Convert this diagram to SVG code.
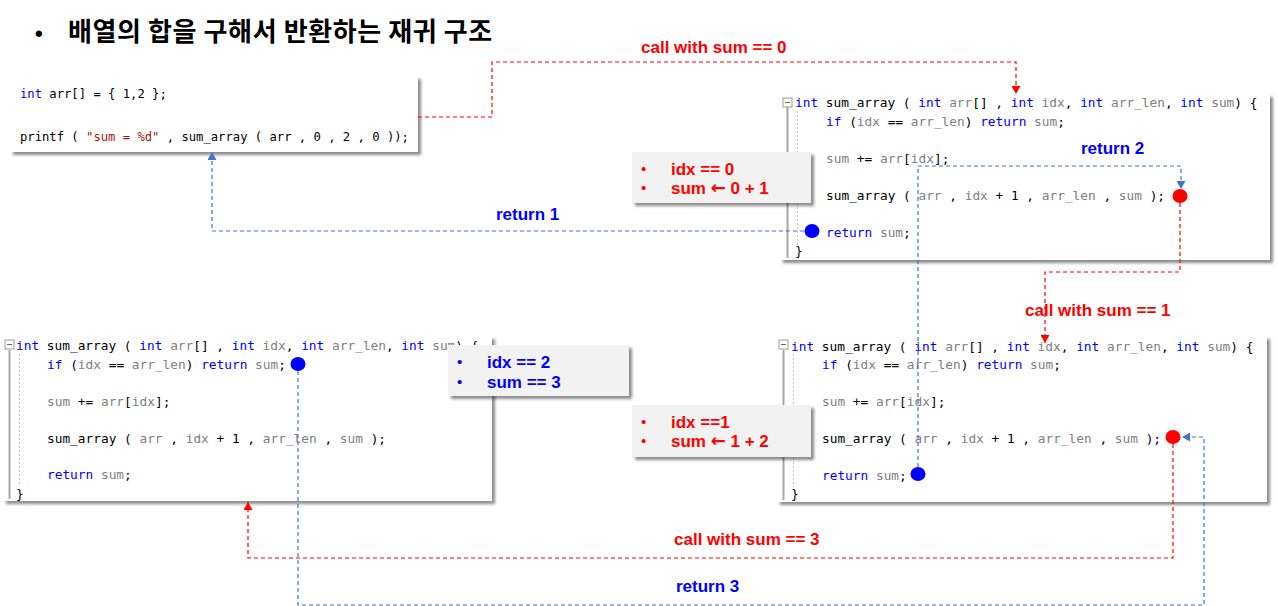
<svg xmlns="http://www.w3.org/2000/svg" width="1278" height="606" viewBox="0 0 1278 606">
<style>
.m{font-family:"DejaVu Sans Mono","Liberation Mono",monospace;font-size:12.8px;fill:#000}
.m1{font-family:"DejaVu Sans Mono","Liberation Mono",monospace;font-size:12.2px;fill:#000}
.k{fill:#0000ff}
.g{fill:#808080}
.s{fill:#a31515}
.lbl{font-family:"Liberation Sans",Arial,sans-serif;font-weight:bold;font-size:17px}
.ann{font-family:"Liberation Sans",Arial,sans-serif;font-weight:bold;font-size:17px}
.arw{font-family:"DejaVu Sans",sans-serif;font-weight:bold;font-size:18px}
.bul{font-family:"Liberation Sans",Arial,sans-serif;font-size:15px}
.red{fill:#ff0000}
.blue{fill:#0000ff}
.box{fill:#ffffff;filter:url(#sh)}
.note{fill:#f2f2f2;filter:url(#sh)}
.gut{stroke:#a6a6a6;stroke-width:2}
.ind{stroke:#c8c8c8;stroke-width:1;stroke-dasharray:2 2}
.fold{fill:#fff;stroke:#999;stroke-width:1}
.foldm{stroke:#666;stroke-width:1}
.cr{fill:none;stroke:#ff0000;stroke-width:1.2;stroke-dasharray:4 3}
.cb{fill:none;stroke:#4472c4;stroke-width:1.2;stroke-dasharray:4 3}
</style>
<defs>
<filter id="sh" x="-5%" y="-10%" width="115%" height="130%">
<feDropShadow dx="3" dy="3" stdDeviation="1.8" flood-color="#000" flood-opacity="0.45"/>
</filter>
<marker id="ar" markerUnits="userSpaceOnUse" markerWidth="9" markerHeight="9" refX="8" refY="4.5" orient="auto">
<path d="M0,0 L8,4.5 L0,9 z" fill="#ff0000"/>
</marker>
<marker id="ab" markerUnits="userSpaceOnUse" markerWidth="9" markerHeight="9" refX="8" refY="4.5" orient="auto">
<path d="M0,0 L8,4.5 L0,9 z" fill="#4472c4"/>
</marker>
</defs>
<rect width="1278" height="606" fill="#ffffff"/>

<g id="title">
<text x="35" y="41" style="font-family:'Liberation Sans',Arial,sans-serif;font-size:22px;font-weight:bold">•</text>
<text x="68" y="41" style="font-family:'Noto Sans CJK KR','Noto Sans',sans-serif;font-size:26px;font-weight:bold;letter-spacing:0.6px">배열의 합을 구해서 반환하는 재귀 구조</text>
</g>

<g id="code-main">
<rect class="box" x="10" y="76" width="408" height="76"/>
<text class="m1" x="20" y="98" xml:space="preserve"><tspan class="k">int</tspan> arr[] = { 1,2 };</text>
<text class="m1" x="20" y="141" xml:space="preserve">printf ( <tspan class="s">"sum = %d"</tspan> , sum_array ( arr , 0 , 2 , 0 ));</text>
</g>

<g id="code-call-1">
<rect class="box" x="780" y="94" width="490" height="166"/>
<line class="gut" x1="787.5" y1="107" x2="787.5" y2="258"/>
<line class="ind" x1="797.5" y1="111" x2="797.5" y2="245"/>
<rect class="fold" x="783" y="98" width="9" height="9"/>
<line class="foldm" x1="785" y1="102.5" x2="790" y2="102.5"/>
<text class="m" x="795" y="107" xml:space="preserve"><tspan class="k">int</tspan> sum_array ( <tspan class="k">int</tspan><tspan class="g"> arr</tspan>[] , <tspan class="k">int</tspan><tspan class="g"> idx</tspan>, <tspan class="k">int</tspan><tspan class="g"> arr_len</tspan>, <tspan class="k">int</tspan><tspan class="g"> sum</tspan>) {</text>
<text class="m" x="826" y="125.5" xml:space="preserve"><tspan class="k">if</tspan> (<tspan class="g">idx</tspan> == <tspan class="g">arr_len</tspan>) <tspan class="k">return</tspan> <tspan class="g">sum</tspan>;</text>
<text class="m" x="826" y="162.5" xml:space="preserve"><tspan class="g">sum</tspan> += <tspan class="g">arr</tspan>[<tspan class="g">idx</tspan>];</text>
<text class="m" x="826" y="199.5" xml:space="preserve">sum_array ( <tspan class="g">arr</tspan> , <tspan class="g">idx</tspan> + 1 , <tspan class="g">arr_len</tspan> , <tspan class="g">sum</tspan> );</text>
<text class="m" x="826" y="236.5" xml:space="preserve"><tspan class="k">return</tspan> <tspan class="g">sum</tspan>;</text>
<text class="m" x="795" y="255">}</text>
</g>

<g id="code-call-2">
<rect class="box" x="777" y="336" width="490" height="166"/>
<line class="gut" x1="783.5" y1="350" x2="783.5" y2="500"/>
<line class="ind" x1="793.5" y1="354" x2="793.5" y2="487"/>
<rect class="fold" x="779" y="340" width="9" height="9"/>
<line class="foldm" x1="781" y1="344.5" x2="786" y2="344.5"/>
<text class="m" x="791" y="350.5" xml:space="preserve"><tspan class="k">int</tspan> sum_array ( <tspan class="k">int</tspan><tspan class="g"> arr</tspan>[] , <tspan class="k">int</tspan><tspan class="g"> idx</tspan>, <tspan class="k">int</tspan><tspan class="g"> arr_len</tspan>, <tspan class="k">int</tspan><tspan class="g"> sum</tspan>) {</text>
<text class="m" x="822" y="369" xml:space="preserve"><tspan class="k">if</tspan> (<tspan class="g">idx</tspan> == <tspan class="g">arr_len</tspan>) <tspan class="k">return</tspan> <tspan class="g">sum</tspan>;</text>
<text class="m" x="822" y="406" xml:space="preserve"><tspan class="g">sum</tspan> += <tspan class="g">arr</tspan>[<tspan class="g">idx</tspan>];</text>
<text class="m" x="822" y="443" xml:space="preserve">sum_array ( <tspan class="g">arr</tspan> , <tspan class="g">idx</tspan> + 1 , <tspan class="g">arr_len</tspan> , <tspan class="g">sum</tspan> );</text>
<text class="m" x="822" y="479.5" xml:space="preserve"><tspan class="k">return</tspan> <tspan class="g">sum</tspan>;</text>
<text class="m" x="791" y="498">}</text>
</g>

<g id="code-call-3">
<rect class="box" x="3" y="336" width="489" height="165"/>
<line class="gut" x1="9.5" y1="350" x2="9.5" y2="499"/>
<line class="ind" x1="19.5" y1="354" x2="19.5" y2="486"/>
<rect class="fold" x="5" y="340" width="9" height="9"/>
<line class="foldm" x1="7" y1="344.5" x2="12" y2="344.5"/>
<text class="m" x="16" y="350" xml:space="preserve"><tspan class="k">int</tspan> sum_array ( <tspan class="k">int</tspan><tspan class="g"> arr</tspan>[] , <tspan class="k">int</tspan><tspan class="g"> idx</tspan>, <tspan class="k">int</tspan><tspan class="g"> arr_len</tspan>, <tspan class="k">int</tspan><tspan class="g"> sum</tspan>) {</text>
<text class="m" x="47" y="368.5" xml:space="preserve"><tspan class="k">if</tspan> (<tspan class="g">idx</tspan> == <tspan class="g">arr_len</tspan>) <tspan class="k">return</tspan> <tspan class="g">sum</tspan>;</text>
<text class="m" x="47" y="405.5" xml:space="preserve"><tspan class="g">sum</tspan> += <tspan class="g">arr</tspan>[<tspan class="g">idx</tspan>];</text>
<text class="m" x="47" y="442.5" xml:space="preserve">sum_array ( <tspan class="g">arr</tspan> , <tspan class="g">idx</tspan> + 1 , <tspan class="g">arr_len</tspan> , <tspan class="g">sum</tspan> );</text>
<text class="m" x="47" y="479" xml:space="preserve"><tspan class="k">return</tspan> <tspan class="g">sum</tspan>;</text>
<text class="m" x="16" y="497.5">}</text>
</g>

<g id="connectors">
<path class="cr" d="M418,117 H492 V62 H1016 V94" marker-end="url(#ar)"/>
<path class="cb" d="M804,231 H212 V152" marker-end="url(#ab)"/>
<path class="cr" d="M1180,203 V272 H1045 V343" marker-end="url(#ar)"/>
<path class="cb" d="M918,467 V166 H1181 V189" marker-end="url(#ab)"/>
<path class="cr" d="M1173,444 V558 H248 V502" marker-end="url(#ar)"/>
<path class="cb" d="M298,371 V605 H1204 V437 H1182" marker-end="url(#ab)"/>
<text class="lbl red" x="641" y="53">call with sum == 0</text>
<text class="lbl blue" x="496" y="220">return 1</text>
<text class="lbl blue" x="1081" y="154">return 2</text>
<text class="lbl red" x="1025" y="316">call with sum == 1</text>
<text class="lbl red" x="674" y="545">call with sum == 3</text>
<text class="lbl blue" x="676" y="592">return 3</text>
</g>

<g id="points">
<ellipse cx="812" cy="231" rx="7.5" ry="7" fill="#0000ff"/>
<ellipse cx="1180" cy="196" rx="7.5" ry="7" fill="#ff0000"/>
<ellipse cx="918" cy="474" rx="7.5" ry="7" fill="#0000ff"/>
<ellipse cx="1173" cy="437" rx="7.5" ry="7" fill="#ff0000"/>
<ellipse cx="298" cy="364" rx="7.5" ry="7" fill="#0000ff"/>
</g>

<g id="note-1">
<rect class="note" x="632" y="152" width="179" height="51"/>
<text class="bul red" x="641" y="174">•</text>
<text class="ann red" x="671" y="175">idx == 0</text>
<text class="bul red" x="641" y="193">•</text>
<text class="ann red" x="671" y="194" xml:space="preserve">sum <tspan class="arw">←</tspan> 0 + 1</text>
</g>

<g id="note-2">
<rect class="note" x="448" y="345" width="181" height="51"/>
<text class="bul blue" x="457" y="367">•</text>
<text class="ann blue" x="487" y="368">idx == 2</text>
<text class="bul blue" x="457" y="387">•</text>
<text class="ann blue" x="487" y="388">sum == 3</text>
</g>

<g id="note-3">
<rect class="note" x="632" y="405" width="179" height="52"/>
<text class="bul red" x="641" y="427">•</text>
<text class="ann red" x="671" y="428">idx ==1</text>
<text class="bul red" x="641" y="446">•</text>
<text class="ann red" x="671" y="447" xml:space="preserve">sum <tspan class="arw">←</tspan> 1 + 2</text>
</g>
</svg>
